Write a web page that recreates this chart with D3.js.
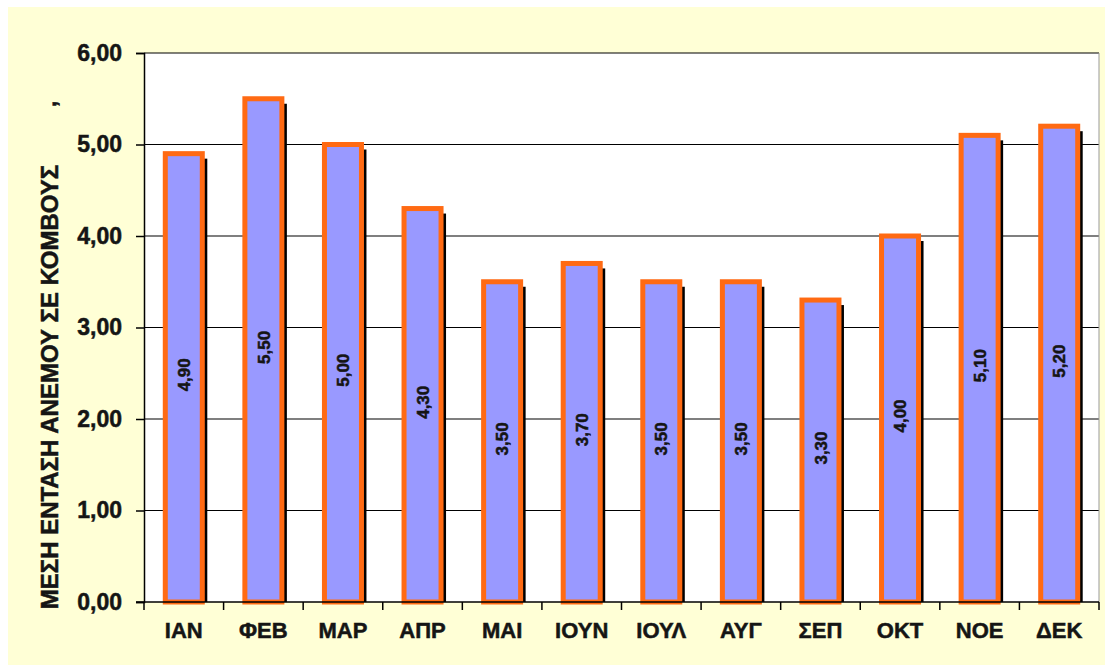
<!DOCTYPE html>
<html>
<head>
<meta charset="utf-8">
<script src="https://cdn.jsdelivr.net/npm/d3@7"></script>
<style>
    html, body { margin: 0; padding: 0; background: #fff; }
    svg text { font-family: "Liberation Sans", Arial, sans-serif; font-weight: bold; fill: #151515; stroke: #151515; stroke-width: 0.5px; }
</style>
</head>
<body>
<div id="chart"></div>
<script>
// μήνες
var months = ['ΙΑΝ', 'ΦΕΒ', 'ΜΑΡ', 'ΑΠΡ', 'ΜΑΙ', 'ΙΟΥΝ', 'ΙΟΥΛ', 'ΑΥΓ', 'ΣΕΠ', 'ΟΚΤ', 'ΝΟΕ', 'ΔΕΚ'];
// μέση ένταση ανέμου (κόμβοι)
var windValues = [4.90, 5.50, 5.00, 4.30, 3.50, 3.70, 3.50, 3.50, 3.30, 4.00, 5.10, 5.20];
var yTicks = [0, 1, 2, 3, 4, 5, 6];
var yTitle = 'ΜΕΣΗ ΕΝΤΑΣΗ ΑΝΕΜΟΥ ΣΕ ΚΟΜΒΟΥΣ';

var width = 1105, height = 665;
var plot = {left: 144, top: 53, right: 1099, bottom: 602};

// 1,00 instead of 1.00
var fmt = function (v) {
    return d3.format('.2f')(v).replace('.', ',');
};

var svg = d3.select('#chart')
    .append('svg')
    .attr('width', width)
    .attr('height', height);

// background of chart area
svg.append('rect')
    .attr('x', 8).attr('y', 7)
    .attr('width', width - 8).attr('height', height - 7)
    .attr('fill', '#ffffd6');

svg.append('rect')
    .attr('x', plot.left).attr('y', plot.top)
    .attr('width', plot.right - plot.left).attr('height', plot.bottom - plot.top)
    .attr('fill', '#ffffff');

var x = d3.scaleBand()
    .domain(months)
    .range([plot.left, plot.right])
    .paddingInner(0.535)
    .paddingOuter(0.2675);

var y = d3.scaleLinear()
    .domain([0, 6])
    .range([plot.bottom, plot.top]);

// gridlines
svg.append('g')
    .selectAll('line')
    .data(yTicks.slice(1))
    .enter()
    .append('line')
    .attr('x1', plot.left).attr('x2', plot.right)
    .attr('y1', function (d) { return y(d); })
    .attr('y2', function (d) { return y(d); })
    .attr('stroke', '#000')
    .attr('stroke-width', 1.2);

// right border of plot
svg.append('line')
    .attr('x1', plot.right).attr('x2', plot.right)
    .attr('y1', plot.top).attr('y2', plot.bottom)
    .attr('stroke', '#999').attr('stroke-width', 1);

var bars = svg.append('g').selectAll('g')
    .data(windValues)
    .enter()
    .append('g');

// shadow
bars.append('rect')
    .attr('x', function (d, i) { return x(months[i]) + 5; })
    .attr('y', function (d) { return y(d) + 5; })
    .attr('width', x.bandwidth())
    .attr('height', function (d) { return plot.bottom - y(d) - 5; })
    .attr('fill', '#000');

bars.append('rect')
    .attr('x', function (d, i) { return x(months[i]); })
    .attr('y', function (d) { return y(d); })
    .attr('width', x.bandwidth())
    .attr('height', function (d) { return plot.bottom - y(d); })
    .attr('fill', '#9999ff')
    .attr('stroke', '#ff6a13')
    .attr('stroke-width', 5);

// data labels
bars.append('text')
    .attr('transform', function (d, i) {
        var cx = x(months[i]) + x.bandwidth() / 2;
        var cy = (y(d) + plot.bottom) / 2 - 3;
        return 'translate(' + cx + ',' + cy + ') rotate(-90)';
    })
    .attr('text-anchor', 'middle')
    .attr('dy', '0.36em')
    .style('font-size', '17px')
    .text(function (d) { return fmt(d); });

// axes
var yAxis = d3.axisLeft(y).tickValues(yTicks).tickFormat(fmt).tickSizeOuter(0).tickSize(8).tickPadding(14);
var gy = svg.append('g')
    .attr('transform', 'translate(' + plot.left + ',0)')
    .call(yAxis);
gy.selectAll('text').style('font-size', '23px').attr('fill', '#151515');
gy.selectAll('line, path').attr('stroke', '#000').attr('stroke-width', 1.5);

var bounds = months.map(function (m) { return x(m) - x.step() * x.paddingInner() / 2; }).concat([plot.right]);
svg.append('g')
    .selectAll('line')
    .data(bounds)
    .enter()
    .append('line')
    .attr('x1', function (d) { return d; }).attr('x2', function (d) { return d; })
    .attr('y1', plot.bottom).attr('y2', plot.bottom + 8)
    .attr('stroke', '#000').attr('stroke-width', 1.5);

svg.append('line')
    .attr('x1', plot.left - 8).attr('x2', plot.right)
    .attr('y1', plot.bottom).attr('y2', plot.bottom)
    .attr('stroke', '#000').attr('stroke-width', 1.5);

svg.append('g')
    .selectAll('text')
    .data(months)
    .enter()
    .append('text')
    .attr('x', function (d) { return x(d) + x.bandwidth() / 2; })
    .attr('y', 638)
    .attr('text-anchor', 'middle')
    .style('font-size', '22px')
    .text(function (d) { return d; });

// axis title
svg.append('text')
    .attr('transform', 'translate(58,387) rotate(-90)')
    .attr('text-anchor', 'middle')
    .style('font-size', '24px')
    .text(yTitle);

svg.append('text')
    .attr('transform', 'translate(56,104) rotate(-90)')
    .attr('text-anchor', 'middle')
    .style('font-size', '22px')
    .text(',');
</script>
</body>
</html>
